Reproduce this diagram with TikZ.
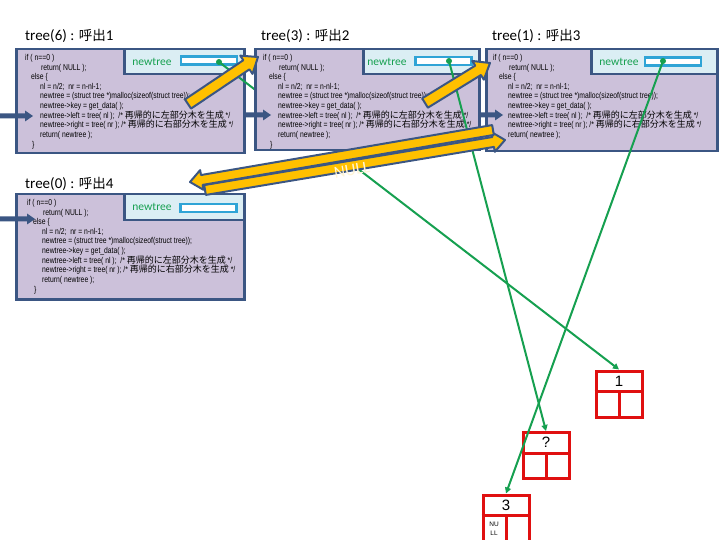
\documentclass[tikz,border=0pt]{standalone}
\usepackage{fontspec}
\setmainfont{Carlito}
\newfontfamily\cjk{Noto Sans CJK JP}
\newfontfamily\codefont{Liberation Sans}[FakeStretch=0.8]
\newfontfamily\keyfont{Liberation Sans}
\usetikzlibrary{calc,arrows.meta}
\definecolor{boxfill}{HTML}{CCC1DA}
\definecolor{boxline}{HTML}{3B5683}
\definecolor{panelfill}{HTML}{DBEEF4}
\definecolor{cyanline}{HTML}{2FA4D6}
\definecolor{gline}{HTML}{16A050}
\definecolor{yfill}{HTML}{FFC000}
\definecolor{redline}{HTML}{E01010}
\definecolor{nulltext}{HTML}{FFF5D6}
\newcommand\jc[1]{{\cjk\fontsize{9pt}{9.65pt}\selectfont #1}}
\newcommand\codelines[1]{if ( n==0 )\\%
\hspace*{16pt}return( NULL );\\%
\hspace*{6pt}else \{\\%
\hspace*{15pt}nl = n/2;\ \ nr = n-nl-1;\\%
\hspace*{15pt}newtree = (struct tree *)malloc(sizeof(struct tree));\\%
\hspace*{15pt}newtree->key = get\_data( );\\%
\hspace*{15pt}newtree->left = tree( nl );\ \ /* \jc{再帰的に左部分木を生成} */\\%
\hspace*{15pt}newtree->right = tree( nr ); /* \jc{再帰的に右部分木を生成} */\\%
\hspace*{15pt}return( newtree );#1}
\newcommand\blockarrow[6]{%
 \coordinate (bac) at ($(#3)!#6!(#2)$);
 \path[#1] ($(#2)!#4!90:(#3)$) -- ($(bac)!#4!90:(#3)$) -- ($(bac)!#5!90:(#3)$) -- (#3)
   -- ($(bac)!#5!-90:(#3)$) -- ($(bac)!#4!-90:(#3)$) -- ($(#2)!#4!-90:(#3)$) -- cycle;
}
\tikzset{
 pbox/.style={draw=boxline, fill=boxfill, line width=2.5pt, anchor=north west, inner sep=0pt},
 panel/.style={draw=boxline, fill=panelfill, line width=2.5pt, anchor=north west, inner sep=0pt},
 inbox/.style={draw=cyanline, fill=white, line width=2.5pt, minimum width=56pt, minimum height=8pt, inner sep=0pt},
 ntext/.style={text=gline, font=\fontsize{11.5pt}{13pt}\selectfont, inner sep=0pt},
 title/.style={anchor=base west, inner sep=0pt, font=\fontsize{15pt}{18pt}\selectfont},
 code/.style={anchor=north west, inner sep=0pt, align=left, font=\codefont\fontsize{8.5pt}{9.65pt}\selectfont},
 gdot/.style={fill=gline},
 garrow/.style={draw=gline, line width=2pt, -{Triangle[length=6pt,width=6pt]}},
 blue/.style={fill=boxline},
 yarrow/.style={fill=yfill, draw=boxline, line width=2pt, line join=round},
 keybox/.style={draw=redline, line width=3pt, fill=white, minimum width=46pt, minimum height=46pt, inner sep=0pt},
 redl/.style={draw=redline, line width=3pt},
 keytext/.style={font=\keyfont\fontsize{15pt}{17pt}\selectfont, inner sep=0pt},
}
\newcommand\jt[1]{{\cjk\fontsize{13.5pt}{16pt}\selectfont #1}}
\begin{document}
\begin{tikzpicture}[x=1pt,y=-1pt]
\useasboundingbox[fill=white] (0,0) rectangle (720,540);

% ---- red key boxes ----
\node[keybox] (k1) at (619,394) {};
\node[keybox] (k2) at (546,455.5) {};
\node[keybox] (k3) at (506,518) {};
\foreach \k in {k1,k2,k3}{
  \draw[redl] ([yshift=-22pt]\k.north west) -- ([yshift=-22pt]\k.north east);
  \draw[redl] ([yshift=-22pt]\k.north) -- (\k.south);
}
\node[keytext] (kt1) at ([yshift=-11.5pt]k1.north) {1};
\node[keytext] (kt2) at ([yshift=-11.5pt]k2.north) {?};
\node[keytext] (kt3) at ([yshift=-11.5pt]k3.north) {3};
\node[font=\keyfont\fontsize{6.5pt}{9pt}\selectfont, align=center, inner sep=0pt] (nul) at (494,529) {NU\\LL};

% ---- tree(6) ----
\node[title] (t6) at (25,41) {tree(6) : \jt{呼出}1};
\node[pbox, minimum width=228pt, minimum height=104pt] (b6) at (15,48) {};
\node[panel, minimum width=120pt, minimum height=25pt] (p6) at (123,48) {};
\node[inbox] (i6) at (209,60.5) {};
\node[ntext] (n6) at (152,62) {newtree};
\node[code] (c6) at (25,54) {\codelines{\\\hspace*{7pt}\}}};
\coordinate (a6s) at (0,116); \coordinate (a6e) at (33,116);
\blockarrow{blue}{a6s}{a6e}{2.5pt}{5.5pt}{8pt}
\coordinate (d6) at (219,62);
\draw[garrow] (d6) -- (k1.north);
\fill[gdot] (d6) circle (3);

% ---- tree(3) ----
\node[title] (t3) at (261,41) {tree(3) : \jt{呼出}2};
\node[pbox, minimum width=224pt, minimum height=101pt] (b3) at (254,48) {};
\node[panel, minimum width=116pt, minimum height=25pt] (p3) at (362,48) {};
\node[inbox] (i3) at (443.5,61) {};
\node[ntext] (n3) at (387,62) {newtree};
\node[code] (c3) at (263,54) {\codelines{\\\hspace*{7pt}\}}};
\coordinate (a3s) at (245,115); \coordinate (a3e) at (271,115);
\blockarrow{blue}{a3s}{a3e}{2.5pt}{5.5pt}{8pt}
\coordinate (d3) at (449,61);
\draw[garrow] (d3) -- (k2.north);
\fill[gdot] (d3) circle (3);

% ---- tree(1) ----
\node[title] (t1) at (492,41) {tree(1) : \jt{呼出}3};
\node[pbox, minimum width=231pt, minimum height=102pt] (b1) at (485,48) {};
\node[panel, minimum width=126pt, minimum height=25pt] (p1) at (590,48) {};
\node[inbox] (i1) at (673,61.5) {};
\node[ntext] (n1) at (619,62) {newtree};
\node[code] (c1) at (493,54) {\codelines{}};
\coordinate (a1s) at (481,115); \coordinate (a1e) at (503,115);
\blockarrow{blue}{a1s}{a1e}{2.5pt}{5.5pt}{8pt}
\coordinate (d1) at (663,61);
\draw[garrow] (d1) -- (k3.north);
\fill[gdot] (d1) circle (3);

% ---- tree(0) ----
\node[title] (t0) at (25,189) {tree(0) : \jt{呼出}4};
\node[pbox, minimum width=228pt, minimum height=105pt] (b0) at (15,193) {};
\node[panel, minimum width=120pt, minimum height=26pt] (p0) at (123,193) {};
\node[inbox] (i0) at (208.5,208) {};
\node[ntext] (n0) at (152,207) {newtree};
\node[code] (c0) at (27,199) {\codelines{\\\hspace*{7pt}\}}};
\coordinate (a0s) at (0,219); \coordinate (a0e) at (35,219);
\blockarrow{blue}{a0s}{a0e}{2.5pt}{5.5pt}{8pt}

% ---- yellow call / return arrows ----
\coordinate (y1s) at (188,104); \coordinate (y1e) at (258,57);
\blockarrow{yarrow}{y1s}{y1e}{5.5pt}{11pt}{14pt}
\coordinate (y2s) at (425,103); \coordinate (y2e) at (490,63);
\blockarrow{yarrow}{y2s}{y2e}{5.5pt}{11pt}{14pt}
\coordinate (y4s) at (205,190); \coordinate (y4e) at (505,140);
\blockarrow{yarrow}{y4s}{y4e}{5pt}{10pt}{12pt}
\coordinate (y3s) at (493,130); \coordinate (y3e) at (190,182);
\blockarrow{yarrow}{y3s}{y3e}{5pt}{10pt}{12pt}
\node[text=nulltext, rotate=9.5, font=\fontsize{17pt}{19pt}\selectfont, inner sep=0pt] (nulllbl) at (352,170) {NULL};
\end{tikzpicture}
\end{document}
